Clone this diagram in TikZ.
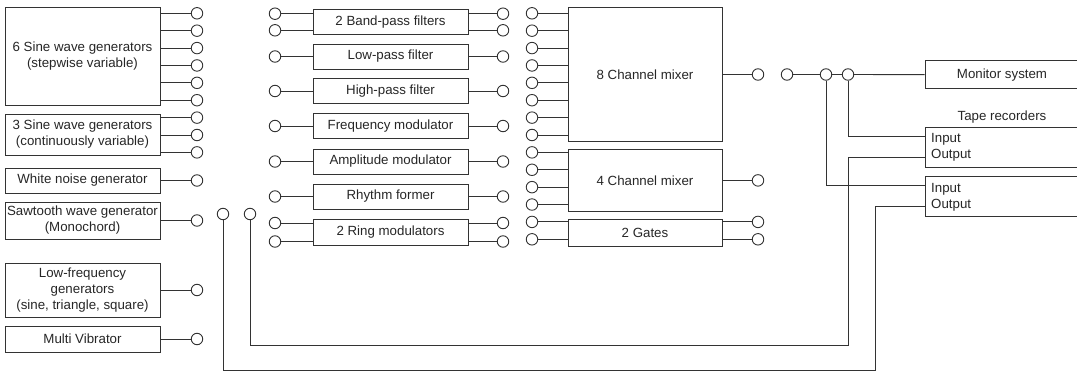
\documentclass[tikz,border=0pt]{standalone}
\usepackage{fontspec}
\setmainfont{Liberation Sans}
\usetikzlibrary{positioning}

\begin{document}
\begin{tikzpicture}[
  x=1pt,y=-1pt,
  device/.style={rectangle,draw=black!80,line width=1pt,inner sep=0pt,align=center,minimum width=155pt,minimum height=#1,font=\fontsize{13.3}{16}\selectfont,text=black!85},
  device/.default=25pt,
  port/.style={circle,draw=black!80,line width=0.9pt,fill=white,minimum size=11.5pt,inner sep=0pt},
  wire/.style={draw=black!80,line width=0.9pt},
  lbl/.style={font=\fontsize{13.3}{16}\selectfont,text=black!85,inner sep=0pt,align=left},
]
\useasboundingbox (0,0) rectangle (1077,372);

% Sound sources
\node[device=98pt] (sine6) at (82.5,56)    {6 Sine wave generators\\(stepwise variable)};
\node[device=41pt] (sine3) at (82.5,134.5) {3 Sine wave generators\\(continuously variable)};
\node[device=25pt] (noise) at (82.5,180.5) {White noise generator};
\node[device=37pt] (saw)   at (82.5,220.5) {Sawtooth wave generator\\(Monochord)};
\node[device=54pt] (lfo)   at (82.5,290)   {Low-frequency\\generators\\(sine, triangle, square)};
\node[device=26pt] (multi) at (82.5,339)   {Multi Vibrator};

% Source outputs
\foreach \k in {0,...,5} {
  \node[port] (sw\k) at (197,{13.3+17.385*\k}) {};
  \draw[wire] (sine6.east |- sw\k) -- (sw\k);
}
\foreach \k in {6,7,8} {
  \node[port] (sw\k) at (197,{13.3+17.385*\k}) {};
  \draw[wire] (sine3.east |- sw\k) -- (sw\k);
}
\node[port] (nzout)  at (197,180.5) {};
\node[port] (sawout) at (197,220.5) {};
\node[port] (lfoout) at (197,290)   {};
\node[port] (mvout)  at (197,339)   {};
\draw[wire] (noise) -- (nzout);
\draw[wire] (saw) -- (sawout);
\draw[wire] (lfo) -- (lfoout);
\draw[wire] (multi) -- (mvout);

% Tape return sockets
\node[port] (reta) at (223,214) {};
\node[port] (retb) at (250,214) {};

% Processing units
\node[device] (bandpass) at (390.5,22)    {2 Band-pass filters};
\node[device] (lowpass)  at (390.5,56.5)  {Low-pass filter};
\node[device] (highpass) at (390.5,91)    {High-pass filter};
\node[device] (fmod)     at (390.5,126)   {Frequency modulator};
\node[device] (amod)     at (390.5,161.5) {Amplitude modulator};
\node[device] (rhythm)   at (390.5,196.5) {Rhythm former};
\node[device=26pt] (ring) at (390.5,232)  {2 Ring modulators};

\foreach \b/\y [count=\i] in {bandpass/13.7,bandpass/30.3,lowpass/56.5,highpass/91,fmod/126,amod/161.5,rhythm/196.5,ring/223,ring/241.5} {
  \node[port] (fi\i) at (275,\y) {};
  \node[port] (fo\i) at (503,\y) {};
  \draw[wire] (fi\i) -- (\b.west |- fi\i);
  \draw[wire] (\b.east |- fo\i) -- (fo\i);
}

% Mixers and gates
\node[device=134.4pt,minimum width=154pt] (mix8)  at (645,74.5)  {8 Channel mixer};
\node[device=62.7pt,minimum width=154pt]  (mix4)  at (645,180.4) {4 Channel mixer};
\node[device=27.7pt,minimum width=154pt]  (gates) at (645,232.9) {2 Gates};

\foreach \k in {0,...,13} {
  \node[port] (mi\k) at (532,{13.3+17.385*\k}) {};
}
\foreach \k in {0,...,7}  \draw[wire] (mi\k) -- (mix8.west |- mi\k);
\foreach \k in {8,...,11} \draw[wire] (mi\k) -- (mix4.west |- mi\k);
\foreach \k in {12,13} {
  \draw[wire] (mi\k) -- (gates.west |- mi\k);
  \node[port] (go\k) at (758,{13.3+17.385*\k}) {};
  \draw[wire] (gates.east |- go\k) -- (go\k);
}
\node[port] (mix8out) at (758,74.5)  {};
\node[port] (mix4out) at (758,180.4) {};
\draw[wire] (mix8) -- (mix8out);
\draw[wire] (mix4) -- (mix4out);

% Monitor and tape recorders
\node[port] (feed) at (787,74.5) {};
\node[port] (ja)   at (826,74.5) {};
\node[port] (jb)   at (848,74.5) {};
\node[device=28.3pt,minimum width=154pt] (monitor) at (1002,74.8)  {Monitor system};
\node[device=40pt,minimum width=154pt]   (tape1)   at (1002,147.3) {};
\node[device=40pt,minimum width=154pt]   (tape2)   at (1002,196.7) {};
\node[lbl,above=3pt of tape1] (tapelbl) {Tape recorders};
\node[lbl,anchor=west] (tio1) at (931,147.8) {Input\\Output};
\node[lbl,anchor=west] (tio2) at (931,197.2) {Input\\Output};

\coordinate (in1)  at (925,136.3);
\coordinate (out1) at (925,157.3);
\coordinate (in2)  at (925,185.7);
\coordinate (out2) at (925,206.7);
\coordinate (bend1) at (848,345.5);
\coordinate (bend2) at (875,370);

\draw[wire] (feed) -- (ja);
\draw[wire] (ja) -- (jb);
\draw[wire] (jb) -- (monitor);
\draw[wire] (jb) |- (in1);
\draw[wire] (ja) |- (in2);
\draw[wire] (out1) -| (bend1) -| (retb);
\draw[wire] (out2) -| (bend2) -| (reta);

\end{tikzpicture}
\end{document}
